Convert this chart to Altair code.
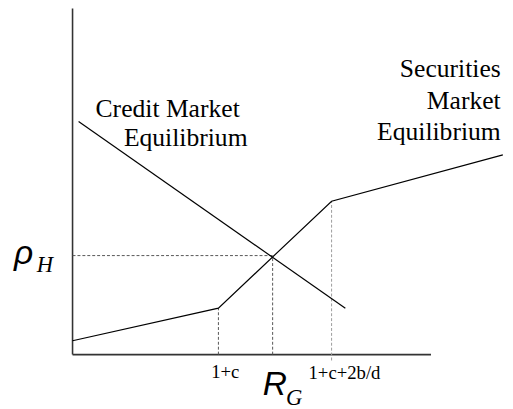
import altair as alt
import pandas as pd

# --- data (abstract units) ---
credit_x = [1.4, 63.4]
credit_y = [67.3, 13.4]
securities_x = [0.0, 33.9, 60.2, 100.0]
securities_y = [4.0, 13.4, 44.3, 57.7]
eq_x = 46.5
eq_y = 28.6
axis_x_end = 83.3
axis_y_end = 100.0

XD = [-15.0, 100.5]
YD = [-14.8, 99.2]

xs = alt.Scale(domain=XD, nice=False, zero=False)
ys = alt.Scale(domain=YD, nice=False, zero=False)


def X(f="x"):
    return alt.X(f"{f}:Q", scale=xs, axis=None)


def Y(f="y"):
    return alt.Y(f"{f}:Q", scale=ys, axis=None)


credit = pd.DataFrame({"x": credit_x, "y": credit_y, "i": range(len(credit_x))})
secur = pd.DataFrame({"x": securities_x, "y": securities_y, "i": range(len(securities_x))})

axes = pd.DataFrame({
    "x": [0.0, 0.0], "y": [0.0, 0.0],
    "x2": [axis_x_end, 0.0], "y2": [0.0, axis_y_end],
})

dark_dash = pd.DataFrame({
    "x": [0.0, securities_x[1], eq_x],
    "y": [eq_y, 0.0, 0.0],
    "x2": [eq_x, securities_x[1], eq_x],
    "y2": [eq_y, securities_y[1], eq_y],
})
light_dash = pd.DataFrame({
    "x": [securities_x[2]], "y": [-1.7],
    "x2": [securities_x[2]], "y2": [securities_y[2]],
})

axis_layer = alt.Chart(axes).mark_rule(color="#333333", strokeWidth=1.6).encode(
    x=X(), y=Y(), x2="x2:Q", y2="y2:Q")
dark_layer = alt.Chart(dark_dash).mark_rule(color="#555555", strokeWidth=1, strokeDash=[3, 2]).encode(
    x=X(), y=Y(), x2="x2:Q", y2="y2:Q")
light_layer = alt.Chart(light_dash).mark_rule(color="#9a9a9a", strokeWidth=1, strokeDash=[3, 2]).encode(
    x=X(), y=Y(), x2="x2:Q", y2="y2:Q")

credit_layer = alt.Chart(credit).mark_line(color="black", strokeWidth=1.2).encode(
    x=X(), y=Y(), order="i:Q")
secur_layer = alt.Chart(secur).mark_line(color="black", strokeWidth=1.2).encode(
    x=X(), y=Y(), order="i:Q")

# text labels
center_lbl = pd.DataFrame({
    "t": ["Credit Market", "Equilibrium"],
    "x": [22.1, 26.3], "y": [68.5, 60.2]})
right_lbl = pd.DataFrame({
    "t": ["Securities", "Market", "Equilibrium"],
    "x": [99.5, 99.5, 99.5], "y": [80.1, 71.0, 61.9]})
tick_lbl = pd.DataFrame({
    "t": ["1+c", "1+c+2b/d"],
    "x": [35.5, 63.2], "y": [-6.8, -7.1]})
big_sym = pd.DataFrame({"t": ["ρ", "R"], "x": [-11.4, 44.2], "y": [26.1, -11.6]})
sub_sym = pd.DataFrame({"t": ["H", "G"], "x": [-8.3, 49.6], "y": [24.0, -14.6]})

serif = "Times New Roman, Liberation Serif, serif"
sans = "Arial, Liberation Sans, sans-serif"

t1 = alt.Chart(center_lbl).mark_text(font=serif, fontSize=26, align="center", baseline="alphabetic",
                                     color="black").encode(x=X(), y=Y(), text="t:N")
t2 = alt.Chart(right_lbl).mark_text(font=serif, fontSize=26, align="right", baseline="alphabetic",
                                    color="black").encode(x=X(), y=Y(), text="t:N")
t3 = alt.Chart(tick_lbl).mark_text(font=serif, fontSize=19, align="center", baseline="alphabetic",
                                   color="black").encode(x=X(), y=Y(), text="t:N")
t4 = alt.Chart(big_sym.iloc[[0]]).mark_text(font=sans, fontSize=34, fontStyle="italic", align="center",
                                            baseline="alphabetic", color="black").encode(x=X(), y=Y(), text="t:N")
t5 = alt.Chart(big_sym.iloc[[1]]).mark_text(font=sans, fontSize=34, fontStyle="italic", align="left",
                                            baseline="alphabetic", color="black").encode(x=X(), y=Y(), text="t:N")
t6 = alt.Chart(sub_sym).mark_text(font=serif, fontSize=23, fontStyle="italic", align="left",
                                  baseline="alphabetic", color="black").encode(x=X(), y=Y(), text="t:N")

chart = alt.layer(
    axis_layer, dark_layer, light_layer, credit_layer, secur_layer, t1, t2, t3, t4, t5, t6
).properties(
    width=505, height=401,
    autosize=alt.AutoSizeParams(type="none"),
    padding=0,
    background="white",
).configure_view(stroke=None)

chart.save("out.html", embed_options={"renderer": "svg", "actions": False})
